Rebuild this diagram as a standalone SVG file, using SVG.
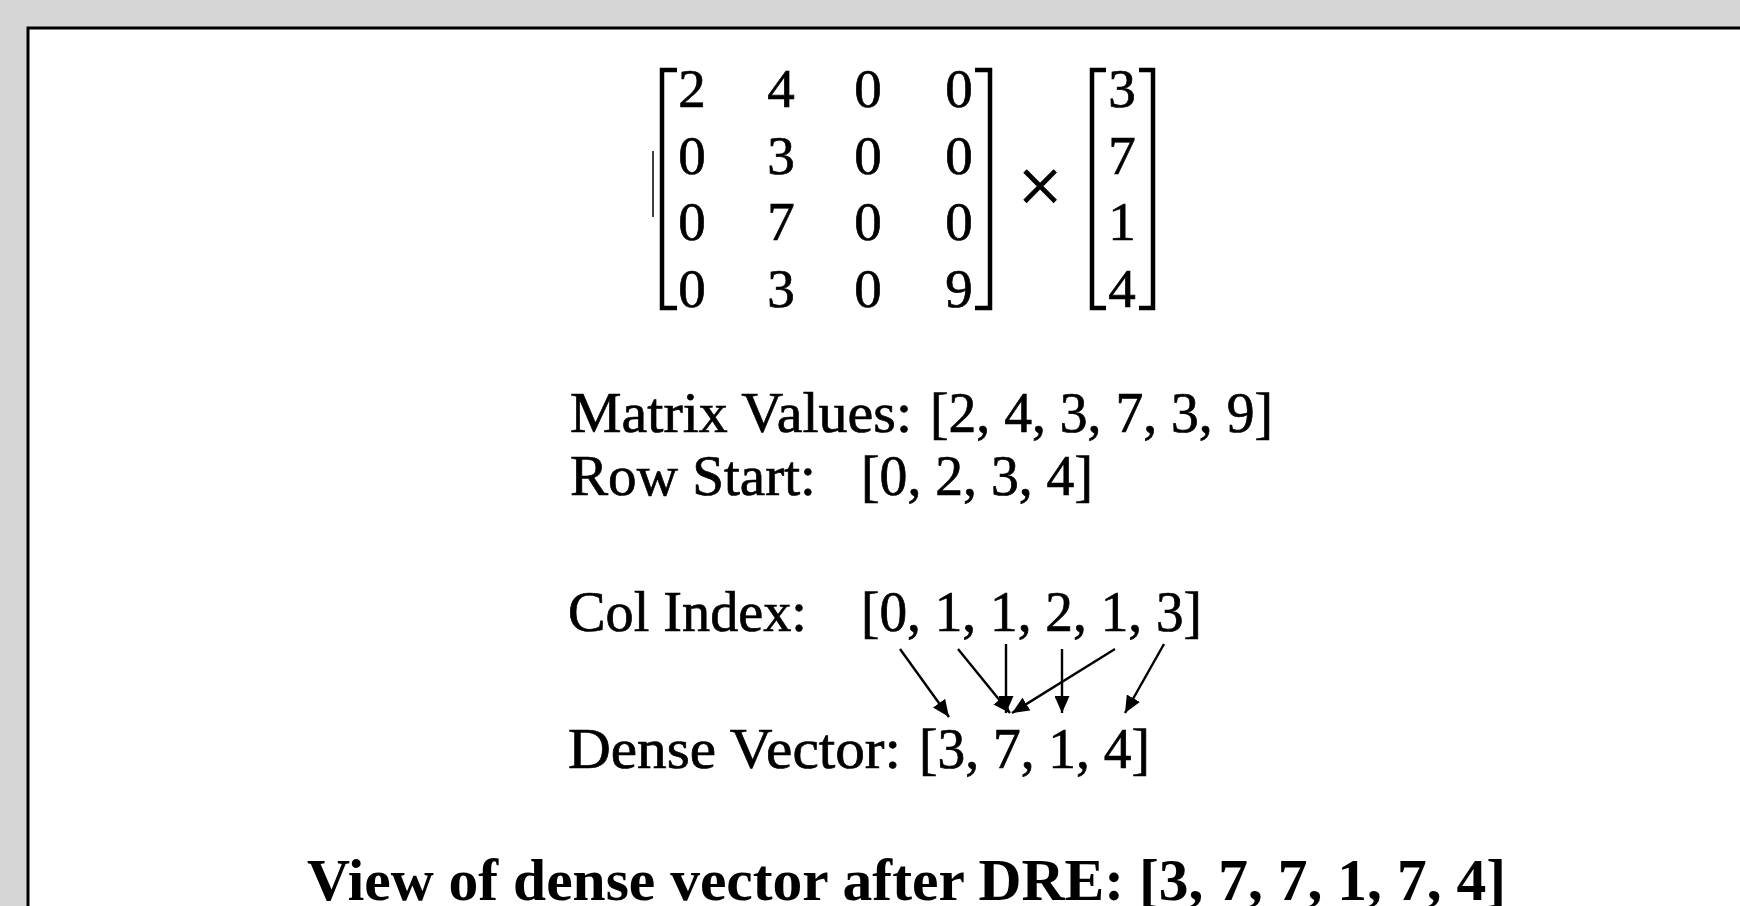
<svg xmlns="http://www.w3.org/2000/svg" width="1740" height="906" viewBox="0 0 1740 906">
  <style>
    .t { font-family: "Liberation Serif", "Times New Roman", serif; font-size: 56px; fill: #000; stroke: #000; stroke-width: 0.7; }
    .m { font-family: "Liberation Serif", "Times New Roman", serif; font-size: 55px; fill: #000; stroke: #000; stroke-width: 0.7; text-anchor: middle; }
    .x { font-family: "Liberation Serif", "Times New Roman", serif; font-size: 80px; fill: #000; stroke: #000; stroke-width: 0.8; text-anchor: middle; }
    .b { font-family: "Liberation Serif", "Times New Roman", serif; font-size: 60px; font-weight: bold; fill: #000; }
    .br { fill: none; stroke: #000; stroke-width: 4.5; stroke-linecap: butt; }
    .ar { fill: none; stroke: #000; stroke-width: 2.4; marker-end: url(#ah); }
  </style>
  <defs>
    <marker id="ah" markerUnits="userSpaceOnUse" markerWidth="17" markerHeight="15" refX="17" refY="7.5" orient="auto">
      <path d="M0,0 L17,7.5 L0,15 z" fill="#000"/>
    </marker>
  </defs>
  <rect x="0" y="0" width="1740" height="906" fill="#d6d6d6"/>
  <rect x="28" y="28" width="1740" height="900" fill="#fff" stroke="#000" stroke-width="3"/>

  <g id="matrix">
    <line x1="653" y1="151" x2="653" y2="217" stroke="#000" stroke-width="1.5"/>
    <path class="br" d="M677,70 L662,70 L662,308 L677,308"/>
    <path class="br" d="M975,70 L990,70 L990,308 L975,308"/>
    <text class="m" x="692" y="107">2</text>
    <text class="m" x="781" y="107">4</text>
    <text class="m" x="868" y="107">0</text>
    <text class="m" x="959" y="107">0</text>
    <text class="m" x="692" y="174">0</text>
    <text class="m" x="781" y="174">3</text>
    <text class="m" x="868" y="174">0</text>
    <text class="m" x="959" y="174">0</text>
    <text class="m" x="692" y="240">0</text>
    <text class="m" x="781" y="240">7</text>
    <text class="m" x="868" y="240">0</text>
    <text class="m" x="959" y="240">0</text>
    <text class="m" x="692" y="307">0</text>
    <text class="m" x="781" y="307">3</text>
    <text class="m" x="868" y="307">0</text>
    <text class="m" x="959" y="307">9</text>
  </g>

  <g id="times">
    <text class="x" x="1040" y="213">×</text>
  </g>

  <g id="vector">
    <path class="br" d="M1106,70 L1092,70 L1092,308 L1106,308"/>
    <path class="br" d="M1139,70 L1153,70 L1153,308 L1139,308"/>
    <text class="m" x="1122" y="107">3</text>
    <text class="m" x="1122" y="174">7</text>
    <text class="m" x="1122" y="240">1</text>
    <text class="m" x="1122" y="307">4</text>
  </g>

  <g id="matrix-values">
    <text class="t" x="570" y="432" textLength="342" lengthAdjust="spacingAndGlyphs">Matrix Values:</text>
    <text class="t" x="930" y="432" textLength="343" lengthAdjust="spacingAndGlyphs">[2, 4, 3, 7, 3, 9]</text>
  </g>
  <g id="row-start">
    <text class="t" x="570" y="495" textLength="246" lengthAdjust="spacingAndGlyphs">Row Start:</text>
    <text class="t" x="861" y="495" textLength="232" lengthAdjust="spacingAndGlyphs">[0, 2, 3, 4]</text>
  </g>
  <g id="col-index">
    <text class="t" x="568" y="631" textLength="239" lengthAdjust="spacingAndGlyphs">Col Index:</text>
    <text class="t" x="861" y="631" textLength="341" lengthAdjust="spacingAndGlyphs">[0, 1, 1, 2, 1, 3]</text>
  </g>
  <g id="dense-vector">
    <text class="t" x="568" y="768" textLength="333" lengthAdjust="spacingAndGlyphs">Dense Vector:</text>
    <text class="t" x="919" y="768" textLength="231" lengthAdjust="spacingAndGlyphs">[3, 7, 1, 4]</text>
  </g>

  <g id="connectors">
    <line class="ar" x1="900" y1="649" x2="949" y2="717"/>
    <line class="ar" x1="958" y1="649" x2="1010" y2="713"/>
    <line class="ar" x1="1006" y1="644" x2="1006" y2="713"/>
    <line class="ar" x1="1062" y1="649" x2="1062" y2="713"/>
    <line class="ar" x1="1115" y1="649" x2="1012" y2="713"/>
    <line class="ar" x1="1164" y1="644" x2="1125" y2="713"/>
  </g>

  <g id="title">
    <text class="b" x="307" y="900" textLength="1199" lengthAdjust="spacingAndGlyphs">View of dense vector after DRE: [3, 7, 7, 1, 7, 4]</text>
  </g>
</svg>
